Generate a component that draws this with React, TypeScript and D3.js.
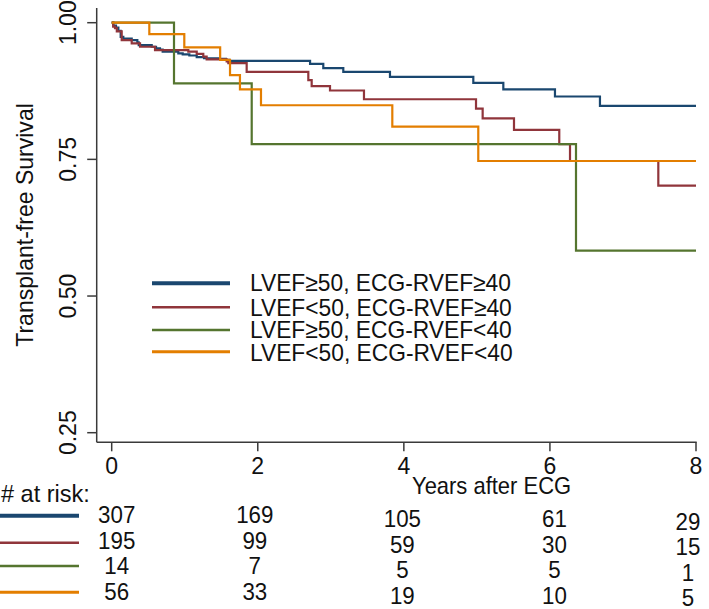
import React from "react";
import * as d3 from "d3";

// ---- Data ----
const seriesLabels = [
  "LVEF\u226550, ECG-RVEF\u226540",
  "LVEF<50, ECG-RVEF\u226540",
  "LVEF\u226550, ECG-RVEF<40",
  "LVEF<50, ECG-RVEF<40",
];
const seriesColors = ["#1a476f", "#90353b", "#55752f", "#e37e00"];

const blueTimes = [0, 0.023, 0.059, 0.091, 0.123, 0.159, 0.274, 0.351, 0.37, 0.548, 0.607, 0.661, 0.698, 0.912, 0.972, 1.063, 1.164, 1.264, 1.46, 1.565, 1.611, 2.716, 2.897, 3.171, 3.81, 4.951, 5.362, 6.069, 6.685, 8];
const blueSurv = [1, 0.9945, 0.991, 0.985, 0.974, 0.971, 0.968, 0.964, 0.959, 0.956, 0.953, 0.951, 0.947, 0.944, 0.942, 0.94, 0.937, 0.935, 0.934, 0.932, 0.93, 0.9245, 0.917, 0.91, 0.901, 0.89, 0.878, 0.865, 0.848, 0.848];

const redTimes = [0, 0.02, 0.045, 0.07, 0.137, 0.274, 0.388, 0.593, 1.049, 1.164, 1.254, 1.3, 1.574, 1.597, 1.848, 2.692, 2.738, 2.989, 3.454, 4.988, 5.079, 5.508, 6.128, 6.275, 7.484, 8];
const redSurv = [1, 0.993, 0.99, 0.984, 0.968, 0.962, 0.956, 0.95, 0.947, 0.943, 0.938, 0.933, 0.929, 0.926, 0.91, 0.895, 0.884, 0.876, 0.86, 0.843, 0.825, 0.804, 0.778, 0.747, 0.702, 0.702];

const greenTimes = [0, 0.853, 1.917, 6.357, 8];
const greenSurv = [1, 0.889, 0.778, 0.583, 0.583];

const orangeTimes = [0, 0.515, 0.994, 1.485, 1.62, 1.756, 2.044, 3.842, 5.019, 8];
const orangeSurv = [1, 0.979, 0.955, 0.932, 0.904, 0.878, 0.849, 0.81, 0.747, 0.747];

const xTicks = [0, 2, 4, 6, 8];
const yTicks = [0.25, 0.5, 0.75, 1.0];
const yTickLabels = ["0.25", "0.50", "0.75", "1.00"];

const atRiskTimes = [0, 2, 4, 6, 8];
const blueRisk = [307, 169, 105, 61, 29];
const redRisk = [195, 99, 59, 30, 15];
const greenRisk = [14, 7, 5, 5, 1];
const orangeRisk = [56, 33, 19, 10, 5];

const xTitle = "Years after ECG";
const yTitle = "Transplant-free Survival";
const riskTitle = "# at risk:";

// ---- Chart ----
const W = 709;
const H = 609;
const FONT = "'Liberation Sans', Arial, Helvetica, sans-serif";

type TProps = {
  x: number;
  y: number;
  rot?: number;
  anchor?: "start" | "middle" | "end";
  size?: number;
  sx?: number;
  children: React.ReactNode;
};

function T({ x, y, rot = 0, anchor = "start", size = 24, sx = 0.94, children }: TProps) {
  return (
    <text
      transform={`translate(${x},${y}) rotate(${rot}) scale(${sx},1)`}
      textAnchor={anchor}
      fontSize={size}
      fill="#111"
    >
      {children}
    </text>
  );
}

export default function App() {
  const x = d3.scaleLinear().domain([0, 8]).range([111.7, 696]);
  const y = d3.scaleLinear().domain([0.25, 1]).range([432.7, 22.7]);
  const axisX = 96.7;
  const axisY = 442.3;

  const series = [
    { t: blueTimes, s: blueSurv },
    { t: redTimes, s: redSurv },
    { t: greenTimes, s: greenSurv },
    { t: orangeTimes, s: orangeSurv },
  ];
  const risks = [blueRisk, redRisk, greenRisk, orangeRisk];

  const line = d3
    .line<[number, number]>()
    .x((d) => x(d[0]))
    .y((d) => y(d[1]))
    .curve(d3.curveStepAfter);

  const legendLineY = [283.3, 307.3, 330, 351.7];
  const legendTextY = [291, 316, 338, 361];
  const legendW = [4, 2.6, 2.6, 3];
  const riskLineY = [515.7, 542.7, 566, 592.3];
  const riskColDx = [5, -3, -1.5, 4.5, -8];
  const riskColDy = [0, 0, 4, 4, 6.5];

  const axisColor = "#3a3a3a";

  return (
    <svg
      width={W}
      height={H}
      style={{ position: "absolute", left: 0, top: 0, background: "#fff" }}
      fontFamily={FONT}
    >
      <rect x={0} y={0} width={W} height={H} fill="#fff" />
      {/* axes */}
      <line x1={axisX} x2={axisX} y1={8} y2={axisY} stroke={axisColor} strokeWidth={1.5} />
      <line x1={axisX} x2={696.7} y1={axisY} y2={axisY} stroke={axisColor} strokeWidth={1.5} />
      {yTicks.map((v, i) => (
        <g key={"yt" + i}>
          <line x1={axisX - 9.5} x2={axisX} y1={y(v)} y2={y(v)} stroke={axisColor} strokeWidth={1.5} />
          <T x={76} y={y(v)} rot={-90} anchor="middle" sx={0.96}>
            {yTickLabels[i]}
          </T>
        </g>
      ))}
      {xTicks.map((v, i) => (
        <g key={"xt" + i}>
          <line x1={x(v)} x2={x(v)} y1={axisY} y2={axisY + 9} stroke={axisColor} strokeWidth={1.5} />
          <T x={x(v)} y={474} anchor="middle" sx={0.96}>
            {v}
          </T>
        </g>
      ))}
      <T x={33} y={225} rot={-90} anchor="middle" sx={0.96}>
        {yTitle}
      </T>
      <T x={412} y={493.5} sx={0.915}>
        {xTitle}
      </T>

      {/* curves */}
      {series.map((sr, i) => (
        <path
          key={"c" + i}
          d={line(sr.t.map((t, j) => [t, sr.s[j]] as [number, number])) || ""}
          fill="none"
          stroke={seriesColors[i]}
          strokeWidth={2.2}
        />
      ))}

      {/* legend */}
      {seriesLabels.map((lab, i) => (
        <g key={"lg" + i}>
          <line x1={152} x2={230} y1={legendLineY[i]} y2={legendLineY[i]} stroke={seriesColors[i]} strokeWidth={legendW[i]} />
          <T x={250} y={legendTextY[i]} sx={0.95}>
            {lab}
          </T>
        </g>
      ))}

      {/* at risk table */}
      <T x={1} y={502} sx={0.98}>
        {riskTitle}
      </T>
      {risks.map((row, i) => (
        <g key={"r" + i}>
          <line x1={0} x2={79} y1={riskLineY[i]} y2={riskLineY[i]} stroke={seriesColors[i]} strokeWidth={legendW[i]} />
          {row.map((n, j) => (
            <T
              key={j}
              x={x(atRiskTimes[j]) + riskColDx[j]}
              y={523 + i * 25.6 + riskColDy[j]}
              anchor="middle"
              sx={0.93}
            >
              {n}
            </T>
          ))}
        </g>
      ))}
    </svg>
  );
}
